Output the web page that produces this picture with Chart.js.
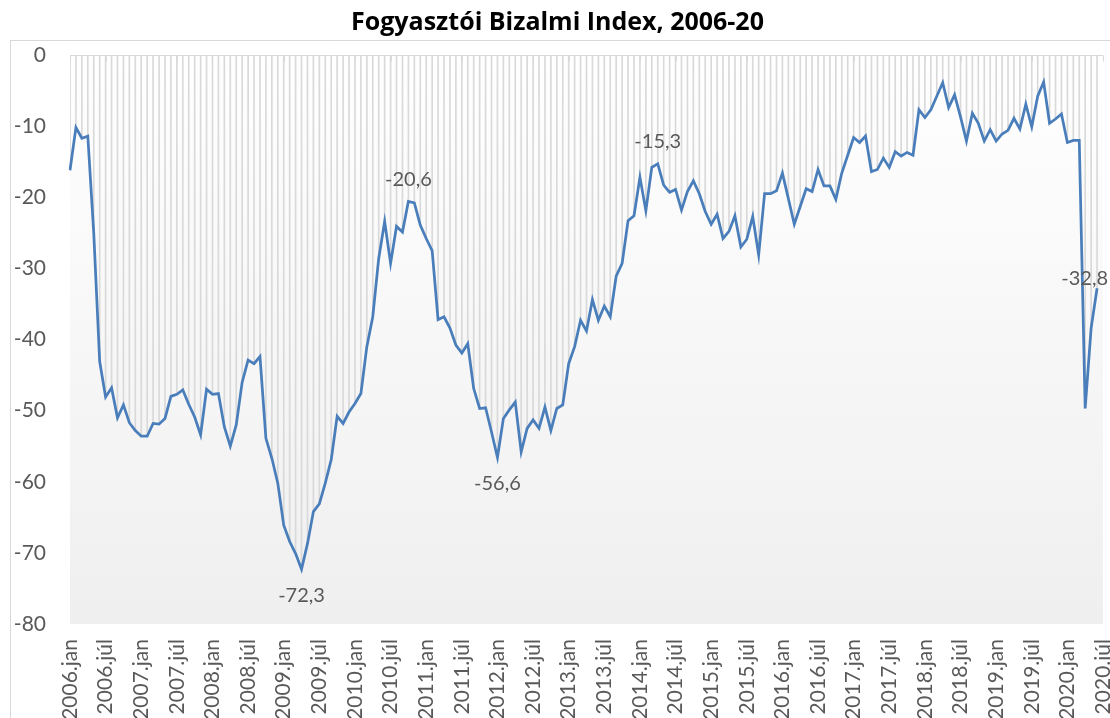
<!DOCTYPE html>
<html>
<head>
<meta charset="utf-8">
<script src="https://cdn.jsdelivr.net/npm/chart.js@4/dist/chart.umd.min.js"></script>
<style>
  html, body { margin: 0; padding: 0; background: #fff; }
  #wrap { width: 1110px; height: 718px; }
</style>
</head>
<body>
<div id="wrap"><canvas id="fbiChart"></canvas></div>
<script>
// Categories: 2006.jan .. 2020.júl
const years = [2006, 2007, 2008, 2009, 2010, 2011, 2012, 2013, 2014, 2015, 2016, 2017, 2018, 2019, 2020];
const months = ['jan', 'febr', 'márc', 'ápr', 'máj', 'jún', 'júl', 'aug', 'szept', 'okt', 'nov', 'dec'];
const lastMonthOf2020 = 7;

// Fogyasztói Bizalmi Index, monthly values
const indexValues = [
  -16.2, -10.2, -11.7, -11.4, -25.0, -43.1, -48.1, -46.8, -51.0, -49.2, -51.7, -52.8,  // 2006
  -53.6, -53.6, -51.8, -51.9, -51.1, -48.0, -47.7, -47.1, -49.1, -50.9, -53.4, -47.0,  // 2007
  -47.7, -47.6, -52.3, -55.0, -52.0, -46.0, -42.9, -43.4, -42.4, -53.9, -56.7, -60.2,  // 2008
  -66.1, -68.4, -70.1, -72.3, -68.7, -64.2, -63.1, -60.2, -56.9, -50.8, -51.8, -50.2,  // 2009
  -49.0, -47.6, -41.0, -36.8, -28.6, -23.4, -29.3, -24.1, -24.9, -20.6, -20.8, -23.9,  // 2010
  -25.8, -27.5, -37.2, -36.8, -38.4, -40.8, -41.9, -40.6, -46.9, -49.7, -49.6, -53.0,  // 2011
  -56.6, -51.1, -49.9, -48.8, -55.8, -52.5, -51.3, -52.5, -49.5, -52.8, -49.7, -49.2,  // 2012
  -43.4, -41.0, -37.3, -38.8, -34.4, -37.3, -35.3, -36.8, -31.1, -29.3, -23.3, -22.6,  // 2013
  -17.2, -21.9, -15.8, -15.3, -18.3, -19.3, -18.9, -21.8, -19.2, -17.7, -19.5, -22.0,  // 2014
  -23.8, -22.4, -25.8, -24.8, -22.6, -27.0, -25.9, -22.7, -28.1, -19.5, -19.5, -19.1,  // 2015
  -16.6, -20.2, -23.8, -21.3, -18.8, -19.2, -16.1, -18.4, -18.4, -20.3, -16.6, -14.1,  // 2016
  -11.6, -12.3, -11.4, -16.4, -16.1, -14.5, -15.8, -13.6, -14.2, -13.7, -14.1, -7.7,   // 2017
  -8.8, -7.7, -5.8, -3.9, -7.4, -5.6, -8.7, -12.1, -8.2, -9.6, -12.1, -10.5,          // 2018
  -12.1, -11.1, -10.6, -8.9, -10.4, -6.9, -10.1, -5.8, -3.8, -9.6, -9.0, -8.3,         // 2019
  -12.3, -12.0, -12.0, -49.7, -38.4, -32.8, null                                        // 2020
];

// Points that carry a value label, and where the label sits
const labelledPoints = [39, 57, 72, 99, 173];
const labelSide = ['below', 'above', 'below', 'above', 'left'];

const yTicks = [0, -10, -20, -30, -40, -50, -60, -70, -80];

const categories = [];
years.forEach(y => {
  const count = y === 2020 ? lastMonthOf2020 : 12;
  for (let m = 0; m < count; m++) categories.push(y + '.' + months[m]);
});

const fmt = v => v.toFixed(1).replace('.', ',');

// plot background gradient + chart border
const backgroundPlugin = {
  id: 'plotBackground',
  beforeDraw(chart) {
    const { ctx, chartArea: a } = chart;
    ctx.save();
    ctx.strokeStyle = '#d9d9d9';
    ctx.lineWidth = 1;
    ctx.strokeRect(10.5, 40.5, chart.width, chart.height);
    const g = ctx.createLinearGradient(0, a.top, 0, a.bottom);
    g.addColorStop(0, '#ffffff');
    g.addColorStop(1, '#efefef');
    ctx.fillStyle = g;
    ctx.fillRect(a.left, a.top, a.right - a.left, a.bottom - a.top);
    ctx.restore();
  }
};

// category axis sits at y = 0 (top of plot), with tick marks every half year
const topAxisPlugin = {
  id: 'topAxis',
  beforeDatasetsDraw(chart) {
    const { ctx, scales: { x, y } } = chart;
    const y0 = Math.round(y.getPixelForValue(0)) + 0.5;
    ctx.save();
    ctx.strokeStyle = '#d9d9d9';
    ctx.lineWidth = 1;
    ctx.beginPath();
    ctx.moveTo(x.left, y0);
    ctx.lineTo(x.right, y0);
    categories.forEach((c, i) => {
      if (i % 6 === 0) {
        const px = Math.round(x.getPixelForValue(i)) + 0.5;
        ctx.moveTo(px, y0);
        ctx.lineTo(px, y0 + 6);
      }
    });
    ctx.stroke();
    ctx.restore();
  }
};

const valueLabelPlugin = {
  id: 'valueLabels',
  afterDatasetsDraw(chart) {
    const { ctx } = chart;
    const meta = chart.getDatasetMeta(1);
    ctx.save();
    ctx.font = '20px Lato';
    ctx.fillStyle = '#595959';
    ctx.textBaseline = 'middle';
    labelledPoints.forEach((idx, k) => {
      const pt = meta.data[idx];
      const text = fmt(indexValues[idx]);
      const side = labelSide[k];
      if (side === 'above') {
        ctx.textAlign = 'center';
        ctx.fillText(text, pt.x, pt.y - 22);
      } else if (side === 'below') {
        ctx.textAlign = 'center';
        ctx.fillText(text, pt.x, pt.y + 26);
      } else {
        ctx.textAlign = 'right';
        ctx.fillText(text, pt.x + 11, pt.y - 10);
      }
    });
    ctx.restore();
  }
};

const ctx = document.getElementById('fbiChart').getContext('2d');

new Chart(ctx, {
  data: {
    labels: categories,
    datasets: [
      {
        type: 'bar',
        data: indexValues,
        backgroundColor: '#d9d9d9',
        barThickness: 1,
        order: 2
      },
      {
        type: 'line',
        data: indexValues,
        borderColor: '#4a7ebb',
        borderWidth: 2.75,
        pointRadius: 0,
        tension: 0,
        fill: false,
        order: 1
      }
    ]
  },
  options: {
    responsive: true,
    maintainAspectRatio: false,
    animation: false,
    layout: { padding: { left: 12, right: 7, top: 0, bottom: 0 } },
    plugins: {
      legend: { display: false },
      tooltip: { enabled: false },
      title: {
        display: true,
        text: 'Fogyasztói Bizalmi Index, 2006-20',
        color: '#000000',
        font: { family: 'Open Sans', size: 25, weight: 'bold' },
        padding: { top: 8, bottom: 17 }
      }
    },
    scales: {
      x: {
        offset: false,
        grid: { display: false, drawTicks: false },
        border: { display: false },
        afterFit: s => { s.paddingLeft = 0; s.paddingRight = 0; s.height = 94; },
        ticks: {
          autoSkip: false,
          maxRotation: 90,
          minRotation: 90,
          padding: 15,
          color: '#595959',
          font: { family: 'Lato', size: 21 },
          callback: (v, i) => (i % 6 === 0 ? categories[i] : null)
        }
      },
      y: {
        min: -80,
        max: 0,
        afterBuildTicks: axis => { axis.ticks = yTicks.map(v => ({ value: v })); },
        afterFit: s => { s.width = 58; },
        grid: { display: false, drawTicks: false },
        border: { display: false },
        ticks: {
          padding: 24,
          color: '#595959',
          font: { family: 'Lato', size: 21 }
        }
      }
    }
  },
  plugins: [backgroundPlugin, topAxisPlugin, valueLabelPlugin]
});
</script>
</body>
</html>
